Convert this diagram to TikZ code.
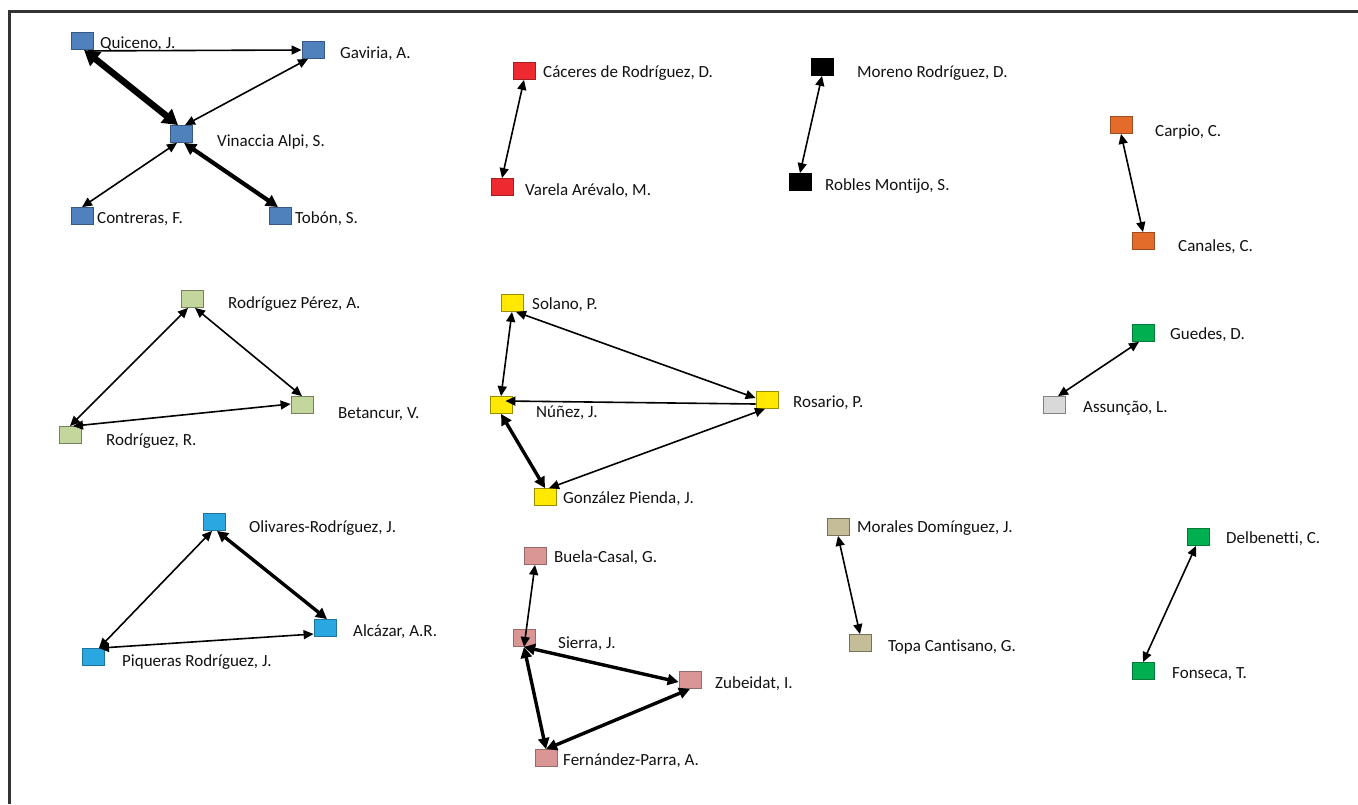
\documentclass[tikz,border=0pt]{standalone}
\usepackage{fontspec}
\setmainfont{Carlito}[Ligatures={NoCommon}]
\usetikzlibrary{arrows.meta}
\definecolor{cblue}{HTML}{4F81BD}
\definecolor{cred}{HTML}{ED2A2F}
\definecolor{corange}{HTML}{E36C2B}
\definecolor{colive}{HTML}{C3D69B}
\definecolor{cyellow}{HTML}{FFE900}
\definecolor{cgreen}{HTML}{00B050}
\definecolor{cgray}{HTML}{D9D9D9}
\definecolor{csky}{HTML}{2AA7E1}
\definecolor{cpink}{HTML}{D99694}
\definecolor{ctan}{HTML}{C4BD97}
\definecolor{ctext}{HTML}{111111}
\tikzset{
  bx/.style={rectangle, minimum width=22pt, minimum height=17pt, inner sep=0pt, line width=0.8pt},
  lbl/.style={anchor=base west, inner sep=0pt, text=ctext, font=\fontsize{17}{20}\selectfont},
  lnk/.style={line width=1.6pt, {Triangle[length=10pt,width=9pt]}-{Triangle[length=10pt,width=9pt]}},
  lnkone/.style={line width=1.6pt, -{Triangle[length=10pt,width=9pt]}},
  lnkm/.style={line width=3.4pt, {Triangle[length=11pt,width=11pt]}-{Triangle[length=11pt,width=11pt]}},
  lnkt/.style={line width=4.2pt, {Triangle[length=12pt,width=12pt]}-{Triangle[length=12pt,width=12pt]}},
  lnkh/.style={line width=6.5pt, {Triangle[length=15pt,width=17pt]}-{Triangle[length=15pt,width=17pt]}},
}
\begin{document}
\begin{tikzpicture}[x=1pt,y=-1pt]
\useasboundingbox (0,0) rectangle (1358,804);
\draw[line width=3pt, black!80] (9.5,804) -- (9.5,11) -- (1358,11);
% group 1
\node[bx, fill=cblue, draw=cblue!70!black] (q) at (82,41) {};
\node[bx, fill=cblue, draw=cblue!70!black] (g) at (313,50) {};
\node[bx, fill=cblue, draw=cblue!70!black] (v) at (181,134) {};
\node[bx, fill=cblue, draw=cblue!70!black] (c) at (82,216) {};
\node[bx, fill=cblue, draw=cblue!70!black] (t) at (280,216) {};
\node[lbl] (lq) at (100,48) {Quiceno, J.};
\node[lbl] (lg) at (340,58) {Gaviria, A.};
\node[lbl] (lv) at (217,146) {Vinaccia Alpi, S.};
\node[lbl] (lc) at (97,223) {Contreras, F.};
\node[lbl] (lt) at (295,223) {Tobón, S.};
\draw[lnkone] ([xshift=6pt,yshift=-1pt]q.south) -- (g.west);
\draw[lnkh] ([xshift=2pt]q.south) -- ([xshift=-3pt]v.north);
\draw[lnk] ([xshift=-5pt]g.south) -- ([xshift=4pt]v.north);
\draw[lnk] ([xshift=-4pt]v.south) -- (c.north);
\draw[lnkt] ([xshift=3pt]v.south) -- ([xshift=-2pt]t.north);
% red
\node[bx, fill=cred, draw=cred!70!black] (cac) at (524,71) {};
\node[bx, fill=cred, draw=cred!70!black] (var) at (502,187) {};
\node[lbl] (lcac) at (543,77) {Cáceres de Rodríguez, D.};
\node[lbl] (lvar) at (525,195) {Varela Arévalo, M.};
\draw[lnk] (cac.south) -- (var.north);
% black
\node[bx, fill=black, draw=black] (mor) at (822,67) {};
\node[bx, fill=black, draw=black] (rob) at (800,182) {};
\node[lbl] (lmor) at (857,77) {Moreno Rodríguez, D.};
\node[lbl] (lrob) at (825,190) {Robles Montijo, S.};
\draw[lnk] (mor.south) -- (rob.north);
% orange
\node[bx, fill=corange, draw=corange!70!black] (car) at (1121,125) {};
\node[bx, fill=corange, draw=corange!70!black] (can) at (1143,241) {};
\node[lbl] (lcar) at (1155,136) {Carpio, C.};
\node[lbl] (lcan) at (1178,251) {Canales, C.};
\draw[lnk] (car.south) -- (can.north);
% olive
\node[bx, fill=colive, draw=colive!60!black] (rp) at (192,299) {};
\node[bx, fill=colive, draw=colive!60!black] (bet) at (302,405) {};
\node[bx, fill=colive, draw=colive!60!black] (rr) at (70,435) {};
\node[lbl] (lrp) at (228,308) {Rodríguez Pérez, A.};
\node[lbl] (lbet) at (338,418) {Betancur, V.};
\node[lbl] (lrr) at (106,445) {Rodríguez, R.};
\draw[lnk] ([xshift=3pt]rp.south) -- (bet.north);
\draw[lnk] ([xshift=-4pt]rp.south) -- (rr.north);
\draw[lnk] ([xshift=3pt]rr.north) -- ([yshift=1pt]bet.west);
% yellow
\node[bx, fill=cyellow, draw=cyellow!60!black] (sol) at (512,303) {};
\node[bx, fill=cyellow, draw=cyellow!60!black] (nun) at (501,405) {};
\node[bx, fill=cyellow, draw=cyellow!60!black] (ros) at (767,400) {};
\node[bx, fill=cyellow, draw=cyellow!60!black] (gon) at (545,497) {};
\node[lbl] (lsol) at (532,309) {Solano, P.};
\node[lbl] (lnun) at (536,417) {Núñez, J.};
\node[lbl] (lros) at (793,407) {Rosario, P.};
\node[lbl] (lgon) at (563,503) {González Pienda, J.};
\draw[lnk] (sol.south) -- (nun.north);
\draw[lnk] ([xshift=4pt]sol.south) -- ([yshift=2pt]ros.west);
\draw[lnkone] ([yshift=-4pt]ros.west) -- ([xshift=-7pt,yshift=4pt]nun.east);
\draw[lnkm] (nun.south) -- (gon.north);
\draw[lnk] ([xshift=4pt]gon.north) -- ([xshift=-2pt]ros.south);
% green / gray
\node[bx, fill=cgreen, draw=cgreen!70!black] (gue) at (1143,333) {};
\node[bx, fill=cgray, draw=cgray!60!black] (ass) at (1054,405) {};
\node[lbl] (lgue) at (1170,339) {Guedes, D.};
\node[lbl] (lass) at (1083,412) {Assunção, L.};
\draw[lnk] ([xshift=-4pt]gue.south) -- ([xshift=4pt]ass.north);
% sky
\node[bx, fill=csky, draw=csky!70!black] (oli) at (214,522) {};
\node[bx, fill=csky, draw=csky!70!black] (alc) at (325,628) {};
\node[bx, fill=csky, draw=csky!70!black] (piq) at (93,657) {};
\node[lbl] (loli) at (249,532) {Olivares-Rodríguez, J.};
\node[lbl] (lalc) at (353,636) {Alcázar, A.R.};
\node[lbl] (lpiq) at (122,666) {Piqueras Rodríguez, J.};
\draw[lnk] ([xshift=-2pt]oli.south) -- ([xshift=6pt]piq.north);
\draw[lnkm] ([xshift=3pt]oli.south) -- ([xshift=2pt]alc.north);
\draw[lnk] ([xshift=6pt]piq.north) -- ([yshift=-6pt]alc.west);
% pink
\node[bx, fill=cpink, draw=cpink!70!black] (bue) at (535,556) {};
\node[bx, fill=cpink, draw=cpink!70!black] (sie) at (524,638) {};
\node[bx, fill=cpink, draw=cpink!70!black] (zub) at (690,680) {};
\node[bx, fill=cpink, draw=cpink!70!black] (fer) at (546,758) {};
\node[lbl] (lbue) at (554,562) {Buela-Casal, G.};
\node[lbl] (lsie) at (558,648) {Sierra, J.};
\node[lbl] (lzub) at (715,688) {Zubeidat, I.};
\node[lbl] (lfer) at (563,765) {Fernández-Parra, A.};
\draw[lnk] (bue.south) -- (sie.south);
\draw[lnkm] (sie.south) -- ([yshift=-2pt]zub.west);
\draw[lnkm] (sie.south) -- (fer.north);
\draw[lnkm] (fer.north) -- (zub.south);
% tan
\node[bx, fill=ctan, draw=ctan!60!black] (mrl) at (838,527) {};
\node[bx, fill=ctan, draw=ctan!60!black] (tpa) at (860,643) {};
\node[lbl] (lmrl) at (857,532) {Morales Domínguez, J.};
\node[lbl] (ltpa) at (888,651) {Topa Cantisano, G.};
\draw[lnk] (mrl.south) -- (tpa.north);
% green 2
\node[bx, fill=cgreen, draw=cgreen!70!black] (del) at (1198,537) {};
\node[bx, fill=cgreen, draw=cgreen!70!black] (fon) at (1143,671) {};
\node[lbl] (ldel) at (1226,543) {Delbenetti, C.};
\node[lbl] (lfon) at (1172,678) {Fonseca, T.};
\draw[lnk] ([xshift=-2pt]del.south) -- (fon.north);
\end{tikzpicture}
\end{document}
